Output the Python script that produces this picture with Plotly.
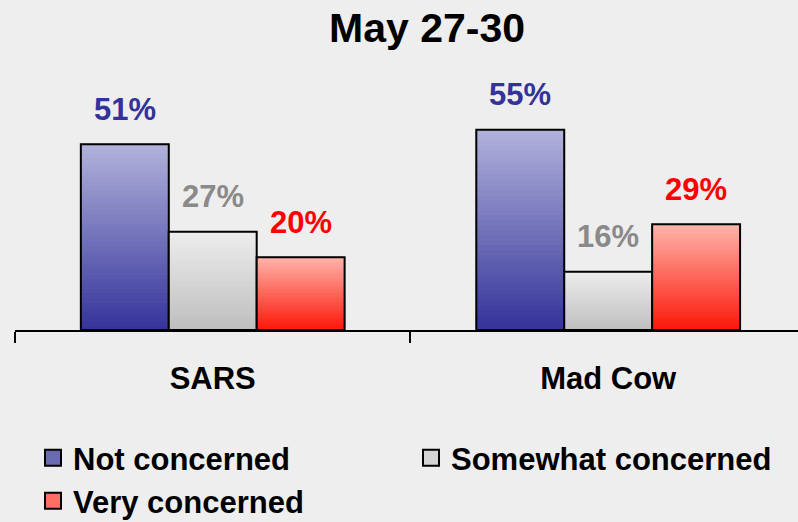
import plotly.graph_objects as go

# ---- data ----
categories = ["SARS", "Mad Cow"]
series_names = ["Not concerned", "Somewhat concerned", "Very concerned"]
not_concerned = [51, 55]
somewhat_concerned = [27, 16]
very_concerned = [20, 29]
title_text = "May 27-30"

values = [not_concerned, somewhat_concerned, very_concerned]
label_colors = ["#333399", "#8a8a8a", "#ff0000"]
# gradient stops (bottom, top)
grad = [
    ((51, 51, 153), (178, 178, 220)),
    ((190, 190, 190), (237, 237, 237)),
    ((252, 22, 8), (255, 180, 170)),
]
legend_colors = ["#6a6ab0", "#d4d4d4", "#ff6e62"]

N = 40
FONT = "Arial, Liberation Sans, sans-serif"
BG = "#eeeeee"

fig = go.Figure()


def mix(c0, c1, t):
    return "rgb(%d,%d,%d)" % tuple(round(a + (b - a) * t) for a, b in zip(c0, c1))


for j, vals in enumerate(values):
    c0, c1 = grad[j]
    for k in range(N):
        t = (k + 0.5) / N
        col = mix(c0, c1, t)
        fig.add_trace(go.Bar(
            x=categories,
            y=[v / N for v in vals],
            base=[v * k / N for v in vals],
            offsetgroup=str(j),
            marker=dict(color=col, line=dict(width=1, color=col)),
            showlegend=False,
            hoverinfo="skip",
        ))
    # outline
    fig.add_trace(go.Bar(
        x=categories,
        y=vals,
        offsetgroup=str(j),
        marker=dict(color="rgba(0,0,0,0)", line=dict(color="black", width=2)),
        showlegend=False,
        name=series_names[j],
    ))

# legend entries
for j, name in enumerate(series_names):
    fig.add_trace(go.Scatter(
        x=[None], y=[None], mode="markers", name=name,
        marker=dict(symbol="square", size=16, color=legend_colors[j],
                    line=dict(color="black", width=2)),
        legend="legend" if j < 2 else "legend2",
    ))

# value labels
bar_w = 0.667 / 3
ann = []
for j, vals in enumerate(values):
    for i, v in enumerate(vals):
        ann.append(dict(
            x=i + (j - 1) * bar_w, y=v, xref="x", yref="y",
            text=f"{v}%", showarrow=False, yanchor="middle", yshift=35,
            font=dict(family=FONT, size=31, color=label_colors[j], weight="bold"),
        ))

legend_font = dict(family=FONT, size=31, color="black", weight="bold")

fig.update_layout(
    width=798, height=522,
    paper_bgcolor=BG, plot_bgcolor=BG,
    margin=dict(l=15, r=0, t=75, b=192),
    barmode="group", bargap=0.333, bargroupgap=0,
    title=dict(text=title_text, x=427 / 798, xref="container", xanchor="center",
               y=1 - 28 / 522, yref="container", yanchor="middle",
               font=dict(family=FONT, size=41, color="black", weight="bold")),
    xaxis=dict(range=[-0.5, 1.48], showline=True, linecolor="black", linewidth=1.5,
               ticks="outside", tickson="boundaries", ticklen=11, tickcolor="black",
               tickwidth=1.5, ticklabelstandoff=20,
               tickfont=dict(family=FONT, size=31, color="black", weight="bold"),
               showgrid=False, zeroline=False),
    yaxis=dict(range=[0, 70], visible=False),
    annotations=ann,
    legend=dict(orientation="h", x=33 / 798, xref="container", xanchor="left",
                y=1 - 458 / 522, yref="container", yanchor="middle",
                entrywidth=333, font=legend_font, bgcolor="rgba(0,0,0,0)",
                itemsizing="trace"),
    legend2=dict(orientation="h", x=33 / 798, xref="container", xanchor="left",
                 y=1 - 501 / 522, yref="container", yanchor="middle",
                 font=legend_font, bgcolor="rgba(0,0,0,0)", itemsizing="trace"),
    showlegend=True,
)

fig.write_html("out.html", config={"displayModeBar": False},
               post_script="document.body.style.margin='0';document.body.style.padding='0';")
